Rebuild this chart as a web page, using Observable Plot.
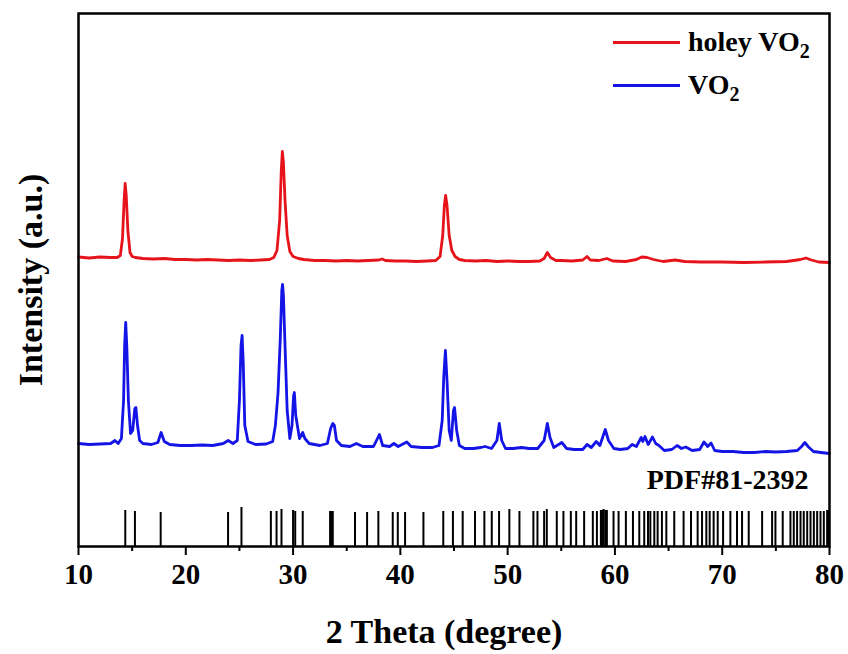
<!DOCTYPE html>
<html><head><meta charset="utf-8">
<script src="https://cdn.jsdelivr.net/npm/d3@7"></script>
<script src="https://cdn.jsdelivr.net/npm/@observablehq/plot@0.6"></script>
<style>
body{margin:0;background:#fff;}
#wrap{position:relative;width:848px;height:654px;}
.leg{position:absolute;left:613px;font-family:"Liberation Serif","Times New Roman",serif;font-weight:bold;font-size:28px;color:#000;display:flex;align-items:center;white-space:nowrap;}
.leg .sw{width:67px;height:0;border-top:3px solid;margin-right:8px;}
.leg sub{font-size:20px;vertical-align:-7px;line-height:0;}
</style>
</head><body><div id="wrap"></div>
<script>
// 2θ (degree), intensity (a.u.)
const holeyVO2 = [
[10.0,289.5],[11.0,288.5],[12.0,289.5],[13.0,289],[13.6,289],[13.9,291],[14.1,308],[14.25,346],[14.35,363],[14.45,351],[14.6,316],[14.8,294],[15.0,290],[15.3,289],
[16.0,288],[17.0,287.5],[18.0,288],[19.0,287],[20.0,287],[21.0,286.5],[22.0,287],[23.0,286.5],[24.0,286],[25.0,286.5],[26.0,286],[27.0,286.5],[27.8,287],
[28.2,289],[28.5,296],[28.75,326],[28.9,376],[29.0,395],[29.1,384],[29.25,346],[29.45,311],[29.7,295],[30.0,290],[30.5,288],[31.0,287],[32.0,286],[33.0,286],
[34.0,285.5],[35.0,286],[36.0,285.5],[37.0,286],[38.0,286.5],[38.3,287.5],[38.6,286],[39.5,285.5],[40.5,285.5],[41.5,285],[42.5,285.5],[43.3,286],[43.7,290],
[43.95,311],[44.1,341],[44.22,351],[44.35,341],[44.55,311],[44.8,296],[45.1,290],[45.5,287],[46.0,286],[47.0,285.5],[48.0,286],[49.0,285],[50.0,285.5],
[51.0,285],[52.0,285],[53.0,285.5],[53.4,288],[53.7,294],[54.0,289],[54.5,286],[55.0,286],[56.0,285.5],[57.0,286.5],[57.4,290],[57.7,286.5],[58.5,286],
[59.25,288],[59.8,285.5],[61.0,285],[62.0,287],[62.5,289.5],[63.0,289],[63.6,287],[64.5,285],[65.6,286.5],[66.5,285],[68.0,284.5],[70.0,284.5],[72.0,284],
[74.0,284.5],[76.0,285],[77.3,287],[77.8,288.5],[78.3,286.5],[79.0,284.5],[80.0,284]
];
const VO2 = [
[10.0,103],[11.0,102],[12.0,102.5],[13.0,103],[13.4,106],[13.7,103],[14.0,108],[14.2,146],[14.3,201],[14.4,224],[14.5,201],[14.65,146],[14.85,113],[15.05,116],
[15.25,138],[15.35,139],[15.5,121],[15.7,106],[16.0,103],[16.8,102],[17.4,104],[17.7,114],[18.0,105],[18.5,102],[19.5,101],[20.5,101],[21.5,101.5],[22.5,101],
[23.5,103],[23.95,106],[24.4,103],[24.8,106],[25.0,146],[25.15,201],[25.25,211],[25.35,186],[25.5,121],[25.8,105],[26.5,102],[27.5,102.5],[28.1,105],[28.35,121],
[28.6,154],[28.8,206],[28.95,256],[29.02,262],[29.1,251],[29.25,201],[29.45,136],[29.7,108],[29.9,121],[30.05,151],[30.12,154],[30.25,131],[30.4,121],[30.6,108],
[30.9,114],[31.1,108],[31.5,103],[32.5,101],[33.2,103],[33.5,118],[33.7,123],[33.85,121],[34.05,106],[34.5,101],[35.3,100],[35.9,103],[36.5,100],[37.5,100],
[38.05,112],[38.35,101],[39.0,100],[39.4,103],[39.8,100],[40.6,104.5],[41.0,100],[42.0,99],[43.0,99],[43.6,101],[43.9,126],[44.05,171],[44.2,196],[44.35,166],
[44.55,116],[44.75,106],[44.95,136],[45.05,139],[45.25,116],[45.5,101],[46.0,98],[46.8,98],[47.5,99],[47.9,100],[48.5,98],[49.0,106],[49.22,123],[49.45,106],
[49.8,98],[50.5,98],[51.3,99],[52.0,98],[52.8,98],[53.4,106],[53.7,123],[53.95,109],[54.3,99],[55.05,104],[55.5,98],[56.2,97],[57.0,97],[57.4,102],[57.8,99],
[58.26,105],[58.6,101],[59.1,117],[59.4,106],[59.9,98],[60.5,97],[61.2,98],[61.6,102],[62.0,100],[62.45,109],[62.6,105],[62.8,110],[63.1,102],[63.5,109.5],
[63.8,103],[64.1,101],[64.6,96],[65.3,97],[65.8,101],[66.2,98],[66.6,99.5],[67.2,96],[67.9,97],[68.3,104.5],[68.65,100],[68.96,103.5],[69.3,96],[70.0,95],
[71.0,95],[72.0,94],[73.0,94],[74.0,95],[75.0,94.5],[76.0,95],[77.0,96],[77.4,100],[77.7,104],[78.0,100],[78.5,95],[79.2,94],[80.0,93]
];
// PDF#81-2392 reference lines: [2θ, relative height]
const pdfLines = [
[14.36,36],[15.26,35],[17.66,34],[23.94,34],[25.19,39],[27.93,35],[28.46,35],[28.92,37],[30.0,36],[30.2,35],[30.9,35],[33.45,35],[33.6,35],[33.7,35],
[35.77,34],[36.9,34],[37.95,35],[39.29,34],[39.76,34],[40.44,34],[42.15,34],[44.0,35],[44.9,35],[45.81,35],[46.96,35],[47.83,35],[48.52,35],[49.2,35],
[50.16,37],[51.1,35],[52.4,35],[52.78,35],[53.4,35],[53.65,37],[54.58,35],[55.2,35],[55.89,35],[56.39,35],[57.13,35],[57.94,35],[58.32,35],[58.69,36],
[58.8,36],[58.94,37],[59.1,36],[59.25,36],[59.87,35],[60.34,35],[61.02,35],[61.68,35],[62.27,35],[62.73,35],[63.08,35],[63.3,35],[63.67,35],[63.98,35],
[64.38,35],[64.79,35],[65.53,35],[66.4,35],[67.09,35],[67.71,35],[68.12,35],[68.52,35],[68.83,35],[69.2,35],[69.58,35],[70.08,35],[70.76,35],[71.38,35],
[71.85,35],[72.47,35],[73.72,35],[74.65,35],[74.96,35],[75.64,35],[76.36,35],[76.67,35],[76.98,35],[77.3,35],[77.6,35],[77.92,35],[78.23,35],[78.54,35],
[78.85,35],[79.16,35],[79.47,35],[79.78,36],[79.95,36]
];
const xTicks = [10,20,30,40,50,60,70,80];
const xMinorTicks = [15,25,35,45,55,65,75];
const xTitle = "2 Theta (degree)";
const yTitle = "Intensity (a.u.)";
const pdfLabel = "PDF#81-2392";
const seriesNames = ["holey VO", "VO"];
const seriesColors = ["#e6141a", "#1414e6"];

const toRows = arr => arr.map(([t, v]) => ({theta: t, I: v}));
const font = "Liberation Serif, Times New Roman, serif";

const chart = Plot.plot({
  width: 848, height: 654,
  marginLeft: 78, marginRight: 19, marginTop: 13, marginBottom: 108,
  x: {domain: [10, 80]},
  y: {domain: [0, 533], axis: null},
  style: {fontFamily: font, background: "white", color: "black"},
  marks: [
    Plot.ruleX(toRows(pdfLines), {x: "theta", y1: 0, y2: "I", stroke: "black", strokeWidth: 2}),
    Plot.line(toRows(VO2), {x: "theta", y: "I", stroke: seriesColors[1], strokeWidth: 2.8}),
    Plot.line(toRows(holeyVO2), {x: "theta", y: "I", stroke: seriesColors[0], strokeWidth: 2.8}),
    Plot.frame({stroke: "black", strokeWidth: 2.5}),
    Plot.axisX({ticks: xTicks, tickSize: 9, tickPadding: 8, fontSize: 29, fontWeight: "bold", strokeWidth: 2, label: null}),
    Plot.axisX({ticks: xMinorTicks, tickSize: 5, tickFormat: () => "", strokeWidth: 2, label: null}),
    Plot.text([yTitle], {text: d => d, frameAnchor: "left", dx: -47, rotate: -90, textAnchor: "middle", fontSize: 34, fontWeight: "bold", lineAnchor: "middle"}),
    Plot.text([xTitle], {text: d => d, frameAnchor: "bottom", dx: -10, dy: 86, textAnchor: "middle", fontSize: 34, fontWeight: "bold", lineAnchor: "middle"}),
    Plot.text([pdfLabel], {text: d => d, frameAnchor: "bottom-right", dx: -21, dy: -66, textAnchor: "end", fontSize: 28, fontWeight: "bold", lineAnchor: "middle"})
  ]
});
const wrap = document.getElementById("wrap");
wrap.appendChild(chart);
// legend
const tops = [26, 69];
seriesNames.forEach((n, i) => {
  const d = document.createElement("div");
  d.className = "leg";
  d.style.top = tops[i] + "px";
  d.innerHTML = `<span class="sw" style="border-color:${seriesColors[i]}"></span><span>${n}<sub>2</sub></span>`;
  wrap.appendChild(d);
});
</script>
</body></html>
